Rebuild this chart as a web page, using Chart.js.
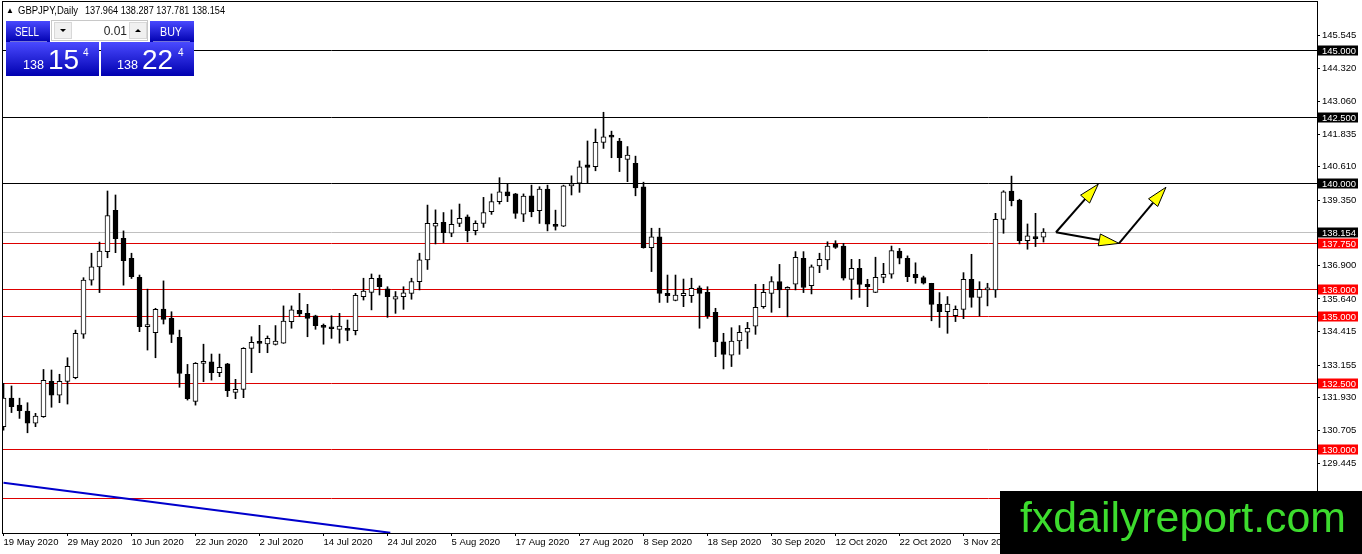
<!DOCTYPE html>
<html>
<head>
<title>GBPJPY, Daily</title>
<script src="https://cdn.jsdelivr.net/npm/chart.js"></script>
<style>
  html, body { margin: 0; padding: 0; background: #fff; overflow: hidden; }
  #wrap { width: 1362px; height: 554px; position: relative; }
</style>
</head>
<body>
<div id="wrap"><canvas id="chart"></canvas></div>
<script>
// daily candles, 19 May 2020 .. 17 Nov 2020
const openP = [130.84,131.91,131.65,131.43,130.97,131.22,132.54,132.02,132.54,132.68,
  134.32,136.35,136.85,137.42,138.97,137.92,137.17,136.45,134.60,134.37,
  135.26,134.91,134.20,132.81,131.79,133.22,133.28,132.87,133.20,132.13,
  132.24,133.78,133.98,133.95,133.93,133.98,134.79,135.21,135.10,135.01,
  134.62,134.57,134.50,134.54,134.45,135.73,135.89,136.42,136.02,135.63,
  135.73,135.85,136.29,137.11,138.38,138.52,138.11,138.48,138.73,138.21,
  138.48,138.92,139.30,139.67,139.59,138.83,139.52,138.96,139.77,138.42,
  138.38,139.89,139.99,140.68,140.61,141.53,141.80,141.58,140.89,140.74,
  139.86,137.57,137.98,135.85,135.59,135.76,135.76,136.06,135.89,135.14,
  134.03,133.53,134.06,134.39,134.62,135.35,135.85,136.29,136.00,136.20,
  137.17,136.14,136.88,137.11,137.71,137.63,136.38,136.79,136.19,135.89,
  136.45,136.57,137.44,137.17,136.57,136.44,136.23,135.44,135.16,135.01,
  135.25,136.38,135.70,135.98,135.98,138.63,139.70,139.36,137.83,137.96,
  137.964];
const highP = [132.47,132.37,131.91,131.74,131.34,132.99,132.97,132.81,133.43,134.47,
  136.44,137.36,137.78,139.70,139.55,138.20,137.36,136.54,136.01,135.29,
  136.32,135.16,134.47,133.18,133.25,133.94,133.57,133.57,133.22,132.62,
  133.81,134.22,134.65,134.25,134.64,135.38,135.38,135.85,135.44,135.03,
  134.70,135.01,135.10,134.85,135.85,136.42,136.58,136.54,136.10,135.92,
  136.10,136.42,137.36,139.17,138.99,138.89,138.99,139.21,138.80,138.58,
  139.46,139.59,140.20,139.96,139.61,139.59,139.92,139.86,139.92,138.98,
  139.92,140.27,140.83,141.58,142.03,142.66,141.95,141.68,141.37,141.01,
  140.03,138.30,138.30,136.54,136.54,136.39,136.42,136.13,136.10,135.29,
  134.35,134.56,134.64,134.76,136.19,136.19,136.48,136.94,136.10,137.42,
  137.42,136.92,137.36,137.79,137.83,137.73,137.13,137.13,136.38,137.21,
  136.98,137.63,137.54,137.26,137.00,136.50,136.23,135.88,135.73,135.38,
  136.63,137.32,136.29,136.23,138.86,139.71,140.26,139.39,138.46,138.86,
  138.287];
const lowP = [130.71,131.37,131.15,130.61,130.84,131.19,131.57,131.74,131.69,132.64,
  134.16,136.16,135.88,137.19,137.38,136.16,136.41,134.41,133.72,133.43,
  134.70,134.00,132.32,131.84,131.65,132.53,132.59,132.72,131.97,131.89,
  131.93,132.87,133.62,133.62,133.91,133.97,134.54,134.98,134.22,134.50,
  133.94,134.16,133.98,134.07,134.29,135.60,135.23,135.79,134.95,135.10,
  135.25,135.63,135.98,136.75,137.71,137.76,137.98,138.36,137.79,138.05,
  138.33,138.82,139.21,139.30,138.67,138.55,138.73,138.48,138.20,138.23,
  138.36,139.55,139.65,139.99,140.46,141.30,140.95,140.43,140.05,139.52,
  137.55,136.67,135.51,135.51,135.57,135.35,135.51,134.54,134.91,133.47,
  133.01,133.10,133.56,133.78,134.31,135.29,135.14,135.31,134.97,135.98,
  135.88,135.83,136.63,136.75,137.54,136.35,135.63,135.70,135.35,135.88,
  136.25,136.42,136.96,136.29,136.23,136.20,134.82,134.57,134.35,134.79,
  134.90,135.33,135.00,135.38,135.70,138.11,139.14,137.71,137.51,137.61,
  137.781];
const closeP = [131.91,131.59,131.44,130.97,131.24,132.58,132.02,132.54,133.11,134.35,
  136.35,136.85,137.44,138.78,137.91,137.08,136.48,134.60,134.63,135.25,
  134.87,134.31,132.84,131.89,133.22,133.30,132.87,133.07,132.19,132.24,
  133.78,134.01,133.97,134.16,134.06,134.81,135.23,135.08,134.91,134.64,
  134.57,134.52,134.62,134.46,135.78,135.94,136.42,136.10,135.73,135.73,
  135.87,136.29,137.11,138.48,138.48,138.13,138.45,138.67,138.21,138.48,
  138.89,139.30,139.67,139.51,138.86,139.51,138.92,139.77,138.45,138.37,
  139.89,139.96,140.61,140.59,141.53,141.74,141.72,140.95,141.05,139.82,
  137.57,137.98,135.85,135.76,135.79,135.85,136.04,135.85,135.01,134.03,
  133.56,134.06,134.39,134.54,135.33,135.89,136.29,135.98,136.06,137.21,
  136.07,136.85,137.13,137.63,137.58,136.42,136.79,136.19,136.10,136.45,
  136.57,137.46,137.17,136.48,136.44,136.23,135.44,135.16,135.45,135.25,
  136.38,135.70,136.00,136.02,138.63,139.67,139.34,137.83,138.01,137.91,
  138.154];

const tickIndex = [0, 8, 16, 24, 32, 40, 48, 56, 64, 72, 80, 88, 96, 104, 112, 120];
const tickLabels = ['19 May 2020', '29 May 2020', '10 Jun 2020', '22 Jun 2020', '2 Jul 2020',
  '14 Jul 2020', '24 Jul 2020', '5 Aug 2020', '17 Aug 2020', '27 Aug 2020', '8 Sep 2020',
  '18 Sep 2020', '30 Sep 2020', '12 Oct 2020', '22 Oct 2020', '3 Nov 2020'];
const priceTicks = [145.545, 144.320, 143.060, 141.835, 140.610, 139.350, 138.125,
  136.900, 135.640, 134.415, 133.155, 131.930, 130.705, 129.445];

const blackLevels = [145.0, 142.5, 140.0];
const redLevels = [137.75, 136.0, 135.0, 132.5, 130.0, 128.15];
const bidPrice = 138.154;

// blue trend line, two anchor points
const trendX = [0, 48.35];
const trendY = [128.73, 126.85];

// yellow arrows drawn on the chart
const arrowFromX = [131.56, 131.56, 139.44];
const arrowFromY = [138.15, 138.15, 137.73];
const arrowToX = [136.85, 139.44, 145.31];
const arrowToY = [139.96, 137.73, 139.84];

const FONT = "'Liberation Sans', Arial, sans-serif";
const idx = openP.map((_, i) => i);

function drawArrow(ctx, x1, y1, x2, y2) {
  const a = Math.atan2(y2 - y1, x2 - x1);
  const len = 20, hw = 6;
  const bx = x2 - len * Math.cos(a), by = y2 - len * Math.sin(a);
  ctx.strokeStyle = '#000';
  ctx.lineWidth = 2;
  ctx.beginPath();
  ctx.moveTo(x1, y1);
  ctx.lineTo(bx, by);
  ctx.stroke();
  ctx.beginPath();
  ctx.moveTo(x2, y2);
  ctx.lineTo(bx + hw * Math.sin(a), by - hw * Math.cos(a));
  ctx.lineTo(bx - hw * Math.sin(a), by + hw * Math.cos(a));
  ctx.closePath();
  ctx.fillStyle = '#ffff00';
  ctx.fill();
  ctx.lineWidth = 1;
  ctx.stroke();
}

function blueGrad(ctx, y0, y1) {
  const g = ctx.createLinearGradient(0, y0, 0, y1);
  g.addColorStop(0, '#4a4aff');
  g.addColorStop(1, '#0000b0');
  return g;
}

function drawPanel(ctx) {
  ctx.save();
  // header line
  ctx.fillStyle = '#000';
  ctx.font = '8px ' + FONT;
  ctx.textBaseline = 'alphabetic';
  ctx.fillText('\u25B2', 6, 13);
  ctx.font = '10px ' + FONT;
  ctx.fillText('GBPJPY,Daily', 18, 14, 60);
  ctx.fillText('137.964 138.287 137.781 138.154', 85, 14, 140);

  // sell / buy buttons
  ctx.fillStyle = blueGrad(ctx, 21, 42);
  ctx.fillRect(6, 21, 44, 21);
  ctx.fillRect(150, 21, 44, 21);
  ctx.fillStyle = blueGrad(ctx, 42, 76);
  ctx.fillRect(6, 42, 93, 34);
  ctx.fillRect(101, 42, 93, 34);
  ctx.strokeStyle = 'rgba(255,255,255,0.45)';
  ctx.lineWidth = 1;
  ctx.beginPath();
  ctx.moveTo(10, 41.5); ctx.lineTo(47, 41.5);
  ctx.moveTo(153, 41.5); ctx.lineTo(190, 41.5);
  ctx.stroke();

  ctx.fillStyle = '#fff';
  ctx.font = '12px ' + FONT;
  ctx.textAlign = 'center';
  ctx.fillText('SELL', 27, 36, 24);
  ctx.fillText('BUY', 171, 36, 22);
  ctx.textAlign = 'left';
  ctx.font = '13px ' + FONT;
  ctx.fillText('138', 23, 69, 21);
  ctx.fillText('138', 117, 69, 21);
  ctx.font = '28px ' + FONT;
  ctx.fillText('15', 48, 69, 32);
  ctx.fillText('22', 142, 69, 33);
  ctx.font = '10px ' + FONT;
  ctx.fillText('4', 83, 56);
  ctx.fillText('4', 178, 56);

  // lot spinner
  ctx.fillStyle = '#fff';
  ctx.fillRect(51, 20, 97, 21);
  ctx.strokeStyle = '#c8c8c8';
  ctx.strokeRect(51.5, 20.5, 96, 20);
  ctx.fillStyle = '#f0f0f0';
  ctx.fillRect(54, 22, 18, 17);
  ctx.fillRect(129, 22, 18, 17);
  ctx.strokeStyle = '#d8d8d8';
  ctx.strokeRect(54.5, 22.5, 17, 16);
  ctx.strokeRect(129.5, 22.5, 17, 16);
  ctx.fillStyle = '#000';
  ctx.beginPath();
  ctx.moveTo(60, 29); ctx.lineTo(66, 29); ctx.lineTo(63, 32); ctx.closePath(); ctx.fill();
  ctx.beginPath();
  ctx.moveTo(135, 32); ctx.lineTo(141, 32); ctx.lineTo(138, 29); ctx.closePath(); ctx.fill();
  ctx.fillStyle = '#222';
  ctx.font = '12px ' + FONT;
  ctx.textAlign = 'right';
  ctx.fillText('0.01', 127, 35, 25);
  ctx.restore();
}

const overlay = {
  id: 'overlay',
  beforeDatasetsDraw(chart) {
    const { ctx, chartArea: a, scales: { y } } = chart;
    ctx.save();
    ctx.lineWidth = 1;
    const hline = (v, c) => {
      const py = Math.round(y.getPixelForValue(v)) + 0.5;
      ctx.strokeStyle = c;
      ctx.beginPath();
      ctx.moveTo(a.left, py);
      ctx.lineTo(a.right, py);
      ctx.stroke();
    };
    hline(bidPrice, '#c0c0c0');
    blackLevels.forEach(v => hline(v, '#000'));
    redLevels.forEach(v => hline(v, '#dd0000'));
    ctx.restore();
  },
  afterDatasetsDraw(chart) {
    const { ctx, scales: { x, y } } = chart;
    ctx.save();
    arrowFromX.forEach((_, i) => {
      drawArrow(ctx,
        x.getPixelForValue(arrowFromX[i]), y.getPixelForValue(arrowFromY[i]),
        x.getPixelForValue(arrowToX[i]), y.getPixelForValue(arrowToY[i]));
    });
    ctx.restore();
  },
  afterDraw(chart) {
    const { ctx, chartArea: a, scales: { y } } = chart;
    ctx.save();
    // frame
    ctx.strokeStyle = '#000';
    ctx.lineWidth = 1;
    ctx.strokeRect(a.left - 0.5, a.top - 0.5, a.right - a.left + 1, a.bottom - a.top + 1);

    // price labels on the axis
    ctx.font = '9.5px ' + FONT;
    ctx.textBaseline = 'middle';
    const tag = (v, bg) => {
      const py = Math.round(y.getPixelForValue(v)) + 0.5;
      ctx.fillStyle = bg;
      ctx.fillRect(a.right + 1, py - 5, 40, 10);
      ctx.fillStyle = '#fff';
      ctx.fillText(v.toFixed(3), a.right + 5, py + 0.5, 34);
    };
    blackLevels.forEach(v => tag(v, '#000'));
    tag(bidPrice, '#000');
    redLevels.forEach(v => tag(v, '#ff0000'));
    ctx.restore();

    drawPanel(ctx);

    // watermark
    ctx.save();
    ctx.fillStyle = '#000';
    ctx.fillRect(1000, 491, 362, 63);
    ctx.fillStyle = '#3ddc2e';
    ctx.font = '43px ' + FONT;
    ctx.textBaseline = 'alphabetic';
    ctx.fillText('fxdailyreport.com', 1020, 532, 326);
    ctx.restore();
  }
};

function noPad(s) {
  s.paddingTop = 0;
  s.paddingBottom = 0;
  s.paddingLeft = 0;
  s.paddingRight = 0;
}

const ctx = document.getElementById('chart').getContext('2d');
const chart = new Chart(ctx, {
  type: 'bar',
  data: {
    datasets: [
      {
        label: 'body',
        data: idx.map(i => ({ x: i, y: [openP[i], closeP[i]] })),
        backgroundColor: idx.map(i => closeP[i] >= openP[i] ? '#fff' : '#000'),
        borderColor: '#000',
        borderWidth: 1,
        borderSkipped: false,
        barThickness: 5,
        minBarLength: 2,
        grouped: false,
        order: 1
      },
      {
        label: 'wick',
        data: idx.map(i => ({ x: i, y: [lowP[i], highP[i]] })),
        backgroundColor: '#000',
        borderWidth: 0,
        barThickness: 1,
        grouped: false,
        order: 2
      },
      {
        type: 'line',
        label: 'trend',
        data: trendX.map((v, i) => ({ x: v, y: trendY[i] })),
        borderColor: '#0000cc',
        borderWidth: 2,
        pointRadius: 0,
        fill: false,
        order: 3
      }
    ]
  },
  options: {
    responsive: true,
    maintainAspectRatio: false,
    animation: false,
    events: [],
    layout: { padding: { left: 3, top: 2, right: 0, bottom: 0 } },
    plugins: { legend: { display: false }, tooltip: { enabled: false } },
    scales: {
      x: {
        type: 'linear',
        offset: false,
        min: -0.0625,
        max: 164.1875,
        afterBuildTicks: s => { s.ticks = tickIndex.map(v => ({ value: v })); },
        afterFit: s => { s.height = 21; noPad(s); },
        grid: { drawOnChartArea: false, drawTicks: true, tickLength: 3, color: '#000', offset: false },
        border: { display: false },
        ticks: {
          autoSkip: false,
          maxRotation: 0,
          align: 'start',
          padding: 1,
          color: '#000',
          font: { family: FONT, size: 9.5 },
          callback: (v, i) => tickLabels[i]
        }
      },
      y: {
        type: 'linear',
        position: 'right',
        min: 126.842,
        max: 146.805,
        afterBuildTicks: s => { s.ticks = priceTicks.map(v => ({ value: v })); },
        afterFit: s => { s.width = 45; noPad(s); },
        grid: { drawOnChartArea: false, drawTicks: true, tickLength: 3, color: '#000' },
        border: { display: false },
        ticks: {
          padding: 2,
          color: '#000',
          font: { family: FONT, size: 9.5 },
          callback: v => v.toFixed(3)
        }
      }
    }
  },
  plugins: [overlay]
});
</script>
</body>
</html>
